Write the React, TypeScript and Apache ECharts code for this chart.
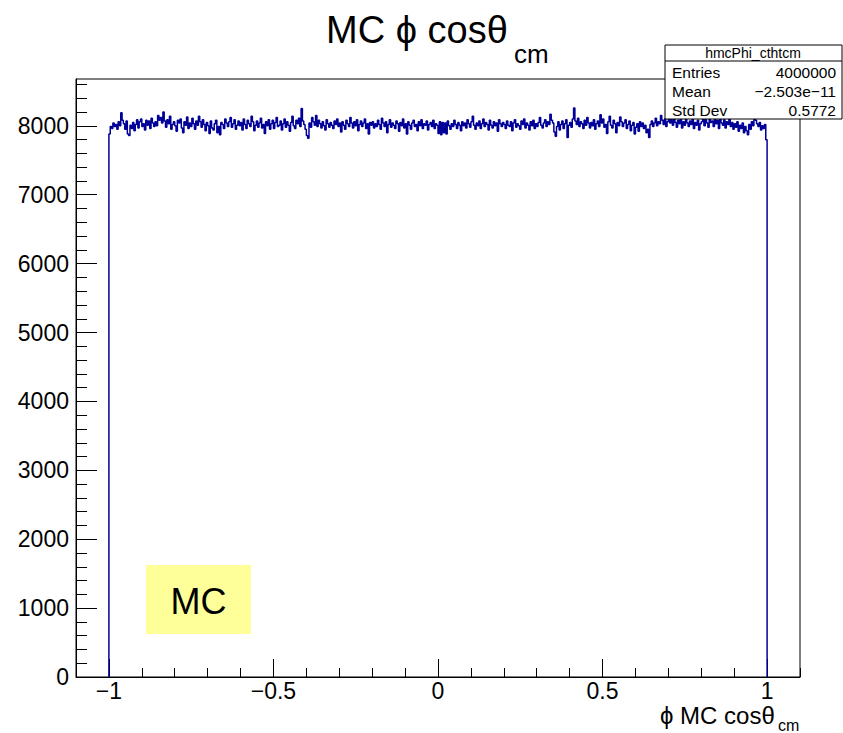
import React, { useEffect, useRef } from "react";
import * as echarts from "echarts";

// Histogram definition: 500 bins on [-1, 1]
const binMin = -1;
const binMax = 1;
const binCounts: number[] = [
  7880, 7990, 7960, 8040, 7990, 8020, 7950, 8060, 8000, 8190,
  8080, 8030, 7950, 8070, 7880, 7860, 8010, 7960, 8050, 7930,
  8020, 8090, 7970, 8060, 8100, 7990, 8030, 7940, 8080, 8010,
  8070, 7960, 8110, 8040, 7990, 8060, 8000, 8150, 8080, 8120,
  8040, 8200, 8070, 7980, 8090, 8030, 8140, 7950, 8020, 8060,
  8000, 7920, 8080, 8040, 8100, 7970, 7900, 8060, 8010, 8130,
  7960, 8040, 7990, 8110, 8030, 7950, 8070, 8010, 8140, 8060,
  7980, 8090, 8020, 7930, 8050, 8000, 7890, 8070, 7970, 7940,
  8030, 8080, 7900, 7990, 7870, 8050, 8020, 7960, 8100, 8040,
  7990, 8060, 8120, 7980, 8030, 8090, 7950, 8010, 8070, 8000,
  8050, 7940, 8100, 8020, 7960, 8080, 8030, 7990, 8140, 8060,
  7930, 8010, 8070, 7980, 8040, 8110, 7970, 8020, 7890, 8060,
  8000, 8090, 7950, 8030, 8080, 7960, 8050, 8120, 7990, 8010,
  8070, 7940, 8030, 8100, 7980, 8060, 8010, 7920, 8050, 8140,
  8000, 7960, 8080, 8030, 8110, 7990, 8250, 8070, 8020, 7950,
  7860, 7820, 8040, 7980, 8120, 8060, 8010, 8150, 7990, 8080,
  8030, 7970, 8060, 8000, 7940, 8090, 8030, 7980, 8050, 8010,
  7960, 8070, 8020, 8100, 7990, 8040, 7910, 8060, 8010, 7950,
  8080, 8030, 7990, 8120, 8040, 7970, 8060, 8000, 8090, 7930,
  8020, 8070, 7990, 8040, 8100, 7960, 8030, 7880, 8050, 8010,
  8060, 7970, 8030, 7990, 8080, 8020, 7950, 8110, 8040, 7990,
  8060, 7900, 8020, 8090, 7980, 8040, 8010, 7960, 8070, 8030,
  7920, 8050, 8000, 8100, 7970, 8030, 7880, 8060, 8010, 7950,
  8040, 8080, 7990, 8020, 7930, 8060, 8000, 8090, 7960, 8030,
  8010, 8070, 7940, 8020, 8050, 7990, 8080, 7960, 8030, 8010,
  7890, 8060, 7870, 8050, 7900, 8040, 7880, 8070, 8000, 7950,
  8030, 7990, 8080, 8020, 7960, 8050, 8010, 7930, 8060, 8000,
  8040, 7970, 8090, 8030, 7980, 8060, 8140, 8010, 7950, 8040,
  8000, 8070, 7960, 8030, 8100, 7990, 8050, 8020, 7940, 8080,
  8010, 7970, 8060, 8000, 8040, 7920, 8090, 8030, 7990, 8050,
  8020, 7960, 8070, 8010, 7990, 8060, 7930, 8040, 8090, 7980,
  8030, 8000, 7950, 8070, 8020, 8100, 7970, 8040, 8010, 7940,
  8060, 8000, 8080, 7960, 8030, 7990, 8050, 8120, 8010, 7970,
  8040, 8090, 7990, 8060, 8020, 8170, 8080, 8040, 7910, 7850,
  7990, 8060, 7940, 8020, 8070, 7960, 8030, 8090, 7830, 8010,
  8050, 7980, 8100, 8260, 8070, 8020, 8110, 7990, 8060, 8030,
  7960, 8080, 8010, 8120, 8040, 7970, 8050, 8000, 8090, 7950,
  8030, 8070, 7990, 8160, 8040, 8100, 7980, 8020, 7890, 8060,
  8140, 8010, 7970, 8080, 8030, 7900, 8050, 8000, 8130, 8060,
  7990, 8040, 8090, 7960, 8020, 8070, 7930, 8010, 8050, 7880,
  7980, 8030, 7920, 8060, 7990, 8040, 7960, 8010, 7900, 7950,
  7830, 8020, 8070, 7990, 8040, 8110, 8000, 8060, 8030, 8150,
  8080, 8020, 8100, 7990, 8060, 8170, 8040, 8090, 8010, 8130,
  8050, 7980, 8080, 8030, 8120, 7970, 8060, 8010, 8140, 8040,
  7990, 8070, 8020, 8100, 7960, 8050, 8010, 8080, 7940, 8030,
  8060, 8120, 8000, 8090, 8040, 7980, 8110, 8050, 8070, 7990,
  8130, 8030, 8080, 7960, 8100, 8040, 8010, 8090, 7970, 8060,
  8020, 8110, 7990, 8050, 7950, 8030, 7980, 8060, 7920, 8010,
  7960, 8040, 7900, 7990, 7930, 7870, 8020, 7950, 8060, 8000,
  8110, 8080, 8030, 7990, 8050, 7940, 8000, 7960, 8020, 7800,
];

// Axis ranges and tick values
const xRange = [-1.1, 1.1];
const yRange = [0, 8680];
const xMajorTicks = [-1, -0.5, 0, 0.5, 1];
const xMinorTicks = [
  -1.1, -1.0, -0.9, -0.8, -0.7, -0.6, -0.5, -0.4, -0.3, -0.2, -0.1, 0,
  0.1, 0.2, 0.3, 0.4, 0.5, 0.6, 0.7, 0.8, 0.9, 1.0, 1.1,
];
const yMajorTicks = [0, 1000, 2000, 3000, 4000, 5000, 6000, 7000, 8000];
const yMinorTicks = [
  0, 200, 400, 600, 800, 1000, 1200, 1400, 1600, 1800, 2000, 2200, 2400,
  2600, 2800, 3000, 3200, 3400, 3600, 3800, 4000, 4200, 4400, 4600, 4800,
  5000, 5200, 5400, 5600, 5800, 6000, 6200, 6400, 6600, 6800, 7000, 7200,
  7400, 7600, 7800, 8000, 8200, 8400, 8600,
];

// Texts
const titleMain = "MC \u03D5 cos\u03B8";
const titleSub = "cm";
const xTitleMain = "\u03D5 MC cos\u03B8";
const xTitleSub = "cm";
const statsName = "hmcPhi_cthtcm";
const statsLabels = ["Entries", "Mean", "Std Dev"];
const statsValues = ["4000000", "\u22122.503e\u221211", "0.5772"];
const boxLabel = "MC";

const FONT = "'Liberation Sans', Arial, Helvetica, sans-serif";

function fmtX(v: number): string {
  if (v === 0) return "0";
  return (v < 0 ? "\u2212" : "") + String(Math.abs(v));
}
function fmtY(v: number): string {
  return String(v);
}

export default function App() {
  const ref = useRef<HTMLDivElement>(null);

  useEffect(() => {
    if (!ref.current) return;
    const chart = echarts.init(ref.current, undefined, { renderer: "svg" });

    const nBins = binCounts.length;
    const binWidth = (binMax - binMin) / nBins;
    const stepData: number[][] = [[binMin, 0]];
    binCounts.forEach((c, i) => stepData.push([binMin + i * binWidth, c]));
    stepData.push([binMax, binCounts[nBins - 1]]);
    stepData.push([binMax, 0]);

    const statsRowsY = [72, 91, 110];
    const statsGraphics: any[] = [
      {
        type: "rect",
        shape: { x: 665, y: 45, width: 177, height: 74 },
        style: { fill: "#fff", stroke: "#000", lineWidth: 1 },
        z: 100,
      },
      {
        type: "line",
        shape: { x1: 665, y1: 61, x2: 842, y2: 61 },
        style: { stroke: "#000", lineWidth: 1 },
        z: 101,
      },
      {
        type: "text",
        x: 753,
        y: 52.5,
        style: {
          text: statsName,
          font: `14px ${FONT}`,
          fill: "#000",
          align: "center",
          verticalAlign: "middle",
        },
        z: 102,
      },
    ];
    statsLabels.forEach((lab, i) => {
      statsGraphics.push({
        type: "text",
        x: 672,
        y: statsRowsY[i],
        style: {
          text: lab,
          font: `15.5px ${FONT}`,
          fill: "#000",
          align: "left",
          verticalAlign: "middle",
        },
        z: 102,
      });
      statsGraphics.push({
        type: "text",
        x: 836,
        y: statsRowsY[i],
        style: {
          text: statsValues[i],
          font: `15.5px ${FONT}`,
          fill: "#000",
          align: "right",
          verticalAlign: "middle",
        },
        z: 102,
      });
    });

    const option: any = {
      animation: false,
      backgroundColor: "#fff",
      grid: {
        left: 76,
        right: 43,
        top: 79,
        bottom: 56,
        show: true,
        borderColor: "#000",
        borderWidth: 1,
        backgroundColor: "transparent",
      },
      xAxis: [
        {
          type: "value",
          min: xRange[0],
          max: xRange[1],
          position: "bottom",
          axisLine: { show: true, onZero: false, lineStyle: { color: "#000", width: 1 } },
          axisTick: {
            show: true,
            inside: true,
            length: 18,
            customValues: xMajorTicks,
            lineStyle: { color: "#000", width: 1 },
          },
          axisLabel: {
            show: true,
            customValues: xMajorTicks,
            formatter: fmtX,
            color: "#000",
            fontFamily: FONT,
            fontSize: 23,
            margin: 2,
          },
          splitLine: { show: false },
        },
        {
          type: "value",
          min: xRange[0],
          max: xRange[1],
          position: "bottom",
          axisLine: { show: false, onZero: false },
          axisTick: {
            show: true,
            inside: true,
            length: 9,
            customValues: xMinorTicks,
            lineStyle: { color: "#000", width: 1 },
          },
          axisLabel: { show: false },
          splitLine: { show: false },
        },
      ],
      yAxis: [
        {
          type: "value",
          min: yRange[0],
          max: yRange[1],
          position: "left",
          axisLine: { show: true, onZero: false, lineStyle: { color: "#000", width: 1 } },
          axisTick: {
            show: true,
            inside: true,
            length: 21,
            customValues: yMajorTicks,
            lineStyle: { color: "#000", width: 1 },
          },
          axisLabel: {
            show: true,
            customValues: yMajorTicks,
            formatter: fmtY,
            color: "#000",
            fontFamily: FONT,
            fontSize: 23,
            margin: 7,
          },
          splitLine: { show: false },
        },
        {
          type: "value",
          min: yRange[0],
          max: yRange[1],
          position: "left",
          axisLine: { show: false, onZero: false },
          axisTick: {
            show: true,
            inside: true,
            length: 11,
            customValues: yMinorTicks,
            lineStyle: { color: "#000", width: 1 },
          },
          axisLabel: { show: false },
          splitLine: { show: false },
        },
      ],
      series: [
        {
          type: "line",
          xAxisIndex: 0,
          yAxisIndex: 0,
          data: stepData,
          step: "end",
          showSymbol: false,
          symbol: "none",
          lineStyle: { color: "#000099", width: 1.5 },
          z: 5,
        },
      ],
      graphic: [
        {
          type: "text",
          x: 326,
          y: 30,
          style: {
            text: titleMain,
            font: `38px ${FONT}`,
            fill: "#000",
            align: "left",
            verticalAlign: "middle",
          },
        },
        {
          type: "text",
          x: 514,
          y: 54,
          style: {
            text: titleSub,
            font: `26px ${FONT}`,
            fill: "#000",
            align: "left",
            verticalAlign: "middle",
          },
        },
        {
          type: "text",
          x: 660,
          y: 715.5,
          style: {
            text: xTitleMain,
            font: `24px ${FONT}`,
            fill: "#000",
            align: "left",
            verticalAlign: "middle",
          },
        },
        {
          type: "text",
          x: 778,
          y: 725,
          style: {
            text: xTitleSub,
            font: `16px ${FONT}`,
            fill: "#000",
            align: "left",
            verticalAlign: "middle",
          },
        },
        {
          type: "rect",
          shape: { x: 146, y: 565, width: 105, height: 69 },
          style: { fill: "#ffff99", stroke: "none" },
          z: 50,
        },
        {
          type: "text",
          x: 198.5,
          y: 601,
          style: {
            text: boxLabel,
            font: `36px ${FONT}`,
            fill: "#000",
            align: "center",
            verticalAlign: "middle",
          },
          z: 51,
        },
        ...statsGraphics,
      ],
    };

    chart.setOption(option);
    return () => {
      chart.dispose();
    };
  }, []);

  return (
    <div
      ref={ref}
      style={{ position: "fixed", left: 0, top: 0, width: 843, height: 733, background: "#fff" }}
    />
  );
}
